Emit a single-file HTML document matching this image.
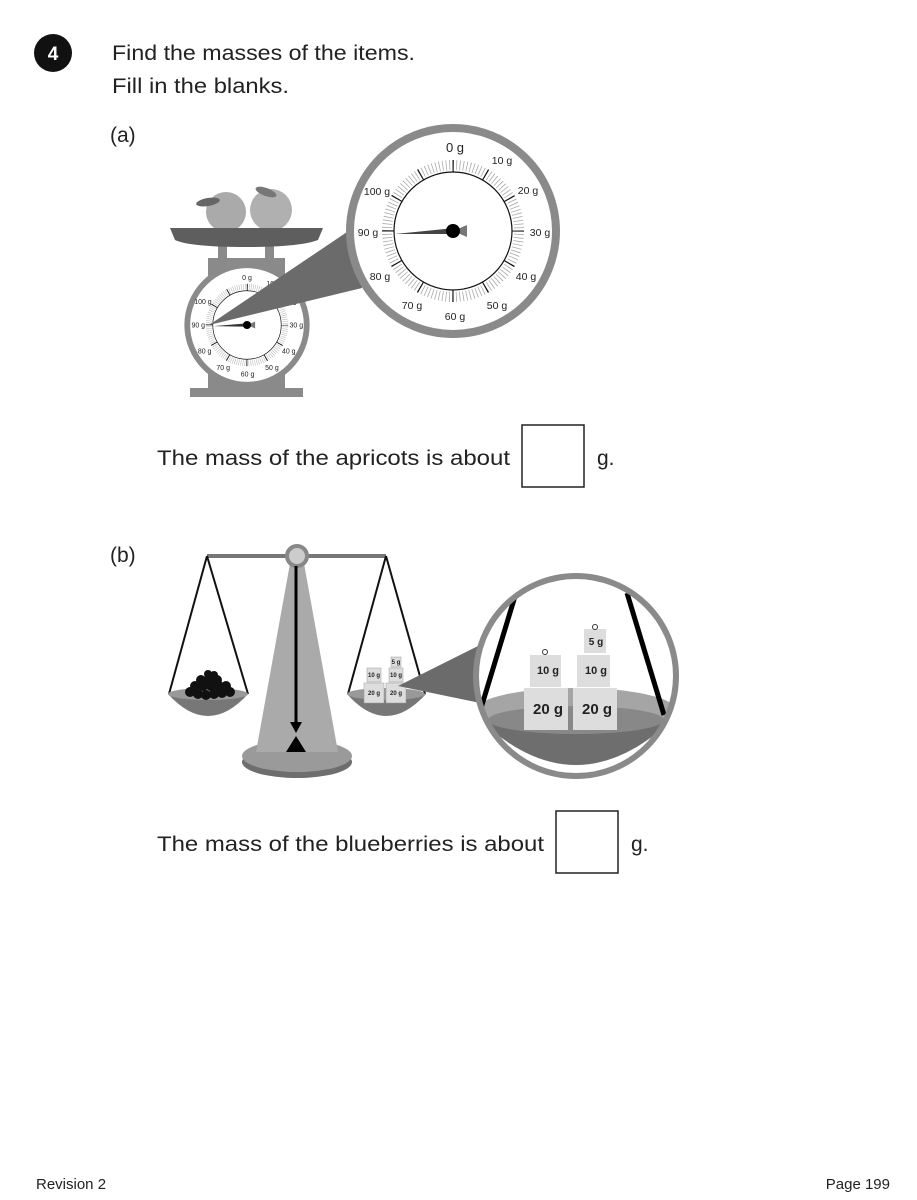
<!DOCTYPE html>
<html><head><meta charset="utf-8"><style>
html,body{margin:0;padding:0;background:#fff}
svg{display:block}
text{font-family:"Liberation Sans",sans-serif}
</style></head><body>
<svg width="917" height="1200" viewBox="0 0 917 1200" xmlns="http://www.w3.org/2000/svg">
<circle cx="53" cy="53" r="19" fill="#111"/>
<text x="53" y="60" text-anchor="middle" font-size="19" font-weight="bold" fill="#fff">4</text>
<text x="112" y="60" font-size="21" fill="#222" textLength="303" lengthAdjust="spacingAndGlyphs">Find the masses of the items.</text>
<text x="112" y="93" font-size="21" fill="#222" textLength="177" lengthAdjust="spacingAndGlyphs">Fill in the blanks.</text>
<text x="110" y="142" font-size="21" fill="#222">(a)</text>

<!-- scale a -->
<rect x="190" y="388" width="113" height="9" fill="#8a8a8a"/>
<rect x="208" y="258" width="77" height="132" fill="#8a8a8a"/>
<rect x="218" y="246" width="9" height="14" fill="#8a8a8a"/>
<rect x="265" y="246" width="9" height="14" fill="#8a8a8a"/>
<circle cx="226" cy="212" r="20" fill="#aaa"/>
<circle cx="271" cy="210" r="21" fill="#b0b0b0"/>
<ellipse cx="208" cy="202" rx="12" ry="4" fill="#666" transform="rotate(-10 208 202)"/>
<ellipse cx="266" cy="192" rx="11" ry="4" fill="#777" transform="rotate(20 266 192)"/>
<path d="M170 228 H323 L318 240 Q300 247 246 247 Q190 247 175 240 Z" fill="#5e5e5e"/>

<!-- small dial -->
<g transform="translate(247,325) scale(0.58) translate(-453,-231)">
<circle cx="453" cy="231" r="103" fill="#fff" stroke="#8a8a8a" stroke-width="10"/>
<circle cx="453" cy="231" r="66" fill="none" stroke="#aaa" stroke-width="10" stroke-dasharray="0.8 2.656" stroke-dashoffset="0.4"/>
<circle cx="453" cy="231" r="64" fill="none" stroke="#111" stroke-width="14" stroke-dasharray="1.5 32.01" stroke-dashoffset="0.75"/>
<circle cx="453" cy="231" r="59" fill="#fff" stroke="#111" stroke-width="1.2"/>
<g font-size="12" text-anchor="middle" fill="#222">
<text x="453" y="153">0 g</text><text x="498" y="164">10 g</text><text x="527" y="194">20 g</text><text x="538" y="235">30 g</text><text x="525" y="280">40 g</text><text x="496" y="309">50 g</text><text x="454" y="320">60 g</text><text x="412" y="309">70 g</text><text x="380" y="280">80 g</text><text x="369" y="235">90 g</text><text x="377" y="195">100 g</text>
</g>
<polygon points="395,233 455,228 455,234" fill="#333"/>
<polygon points="453,231 467,225 467,237" fill="#777"/>
<circle cx="453" cy="231" r="7" fill="#000"/>
</g>

<!-- cone -->
<polygon points="209,325 350,230 362,288" fill="#6b6b6b"/>

<!-- big dial -->
<circle cx="453" cy="231" r="103" fill="#fff" stroke="#8a8a8a" stroke-width="8"/>
<circle cx="453" cy="231" r="66" fill="none" stroke="#aaa" stroke-width="10" stroke-dasharray="0.8 2.656" stroke-dashoffset="0.4"/>
<circle cx="453" cy="231" r="64" fill="none" stroke="#111" stroke-width="14" stroke-dasharray="1.2 32.31" stroke-dashoffset="0.6"/>
<circle cx="453" cy="231" r="59" fill="#fff" stroke="#111" stroke-width="1.2"/>
<g font-size="10.5" text-anchor="middle" fill="#222">
<text x="455" y="152" font-size="13">0 g</text><text x="502" y="164">10 g</text><text x="528" y="194">20 g</text><text x="540" y="236">30 g</text><text x="526" y="280">40 g</text><text x="497" y="309">50 g</text><text x="455" y="320">60 g</text><text x="412" y="309">70 g</text><text x="380" y="280">80 g</text><text x="368" y="236">90 g</text><text x="377" y="195">100 g</text>
</g>
<polygon points="395,234 455,228 455,234" fill="#444"/>
<polygon points="453,231 467,225 467,237" fill="#777"/>
<circle cx="453" cy="231" r="7" fill="#000"/>

<text x="157" y="465" font-size="21" fill="#222" textLength="353" lengthAdjust="spacingAndGlyphs">The mass of the apricots is about</text>
<rect x="522" y="425" width="62" height="62" fill="#fff" stroke="#222" stroke-width="1.5"/>
<text x="597" y="465" font-size="21" fill="#222">g.</text>

<text x="110" y="562" font-size="21" fill="#222">(b)</text>

<!-- balance -->
<ellipse cx="297" cy="762" rx="55" ry="16" fill="#6e6e6e"/>
<ellipse cx="297" cy="756" rx="55" ry="16" fill="#9a9a9a"/>
<polygon points="291,558 303,558 338,752 256,752" fill="#aaa"/>
<line x1="207" y1="556" x2="386" y2="556" stroke="#777" stroke-width="4"/>
<circle cx="297" cy="556" r="10" fill="#ccc" stroke="#888" stroke-width="4"/>
<line x1="296" y1="566" x2="296" y2="725" stroke="#000" stroke-width="3"/>
<polygon points="290,722 302,722 296,733" fill="#000"/>
<polygon points="296,736 306,752 286,752" fill="#000"/>
<!-- left pan -->
<line x1="207" y1="556" x2="169" y2="694" stroke="#111" stroke-width="2"/>
<line x1="207" y1="556" x2="248" y2="694" stroke="#111" stroke-width="2"/>
<path d="M168 694 Q208 738 248 694 Z" fill="#777"/>
<ellipse cx="208" cy="694" rx="40" ry="6" fill="#999"/>
<g fill="#111">
<circle cx="190" cy="692" r="5"/><circle cx="198" cy="694" r="5"/><circle cx="206" cy="695" r="5"/><circle cx="214" cy="694" r="5"/><circle cx="222" cy="693" r="5"/><circle cx="230" cy="692" r="5"/>
<circle cx="195" cy="686" r="5"/><circle cx="203" cy="686" r="5"/><circle cx="211" cy="686" r="5"/><circle cx="219" cy="686" r="5"/><circle cx="226" cy="686" r="5"/>
<circle cx="201" cy="680" r="5"/><circle cx="209" cy="679" r="5"/><circle cx="217" cy="680" r="5"/><circle cx="208" cy="674" r="4"/><circle cx="214" cy="675" r="4"/>
</g>
<!-- right pan -->
<line x1="386" y1="556" x2="348" y2="694" stroke="#111" stroke-width="2"/>
<line x1="386" y1="556" x2="425" y2="694" stroke="#111" stroke-width="2"/>
<path d="M347 694 Q386 738 426 694 Z" fill="#777"/>
<ellipse cx="386" cy="694" rx="39" ry="6" fill="#999"/>
<g fill="#ddd" stroke="#999" stroke-width="0.5">
<rect x="364" y="683" width="20" height="20"/><rect x="386" y="683" width="20" height="20"/>
<rect x="367" y="668" width="14" height="14"/><rect x="389" y="668" width="14" height="14"/><rect x="391" y="657" width="10" height="10"/>
</g>
<g font-size="6" text-anchor="middle" fill="#222" font-weight="bold">
<text x="374" y="695">20 g</text><text x="396" y="695">20 g</text><text x="374" y="677">10 g</text><text x="396" y="677">10 g</text><text x="396" y="664">5 g</text>
</g>
<polygon points="398,686 490,640 490,705" fill="#6b6b6b"/>
<!-- zoom circle b -->
<clipPath id="cb"><circle cx="576" cy="676" r="100"/></clipPath>
<circle cx="576" cy="676" r="100" fill="#fff"/>
<g clip-path="url(#cb)">
<path d="M470 710 Q576 820 682 710 Z" fill="#6e6e6e"/>
<ellipse cx="576" cy="710" rx="100" ry="22" fill="#a5a5a5"/>
<ellipse cx="576" cy="720" rx="88" ry="14" fill="#888"/>
<line x1="516" y1="593" x2="478" y2="718" stroke="#000" stroke-width="5"/>
<line x1="627" y1="593" x2="664" y2="715" stroke="#000" stroke-width="5"/>
<g fill="#ddd">
<rect x="524" y="688" width="44" height="42"/><rect x="573" y="688" width="44" height="42"/>
<rect x="530" y="655" width="31" height="32"/><rect x="577" y="655" width="33" height="32"/><rect x="584" y="629" width="22" height="24"/>
</g>
<circle cx="545" cy="652" r="2.5" fill="none" stroke="#333"/><circle cx="595" cy="627" r="2.5" fill="none" stroke="#333"/>
<g text-anchor="middle" fill="#222" font-weight="bold">
<text x="548" y="714" font-size="15">20 g</text><text x="597" y="714" font-size="15">20 g</text>
<text x="548" y="674" font-size="11">10 g</text><text x="596" y="674" font-size="11">10 g</text><text x="596" y="645" font-size="10">5 g</text>
</g>
</g>
<circle cx="576" cy="676" r="100" fill="none" stroke="#8a8a8a" stroke-width="6"/>

<text x="157" y="851" font-size="21" fill="#222" textLength="387" lengthAdjust="spacingAndGlyphs">The mass of the blueberries is about</text>
<rect x="556" y="811" width="62" height="62" fill="#fff" stroke="#222" stroke-width="1.5"/>
<text x="631" y="851" font-size="21" fill="#222">g.</text>

<text x="36" y="1189" font-size="15" fill="#222">Revision 2</text>
<text x="890" y="1189" font-size="15" fill="#222" text-anchor="end">Page 199</text>
</svg>
</body></html>
